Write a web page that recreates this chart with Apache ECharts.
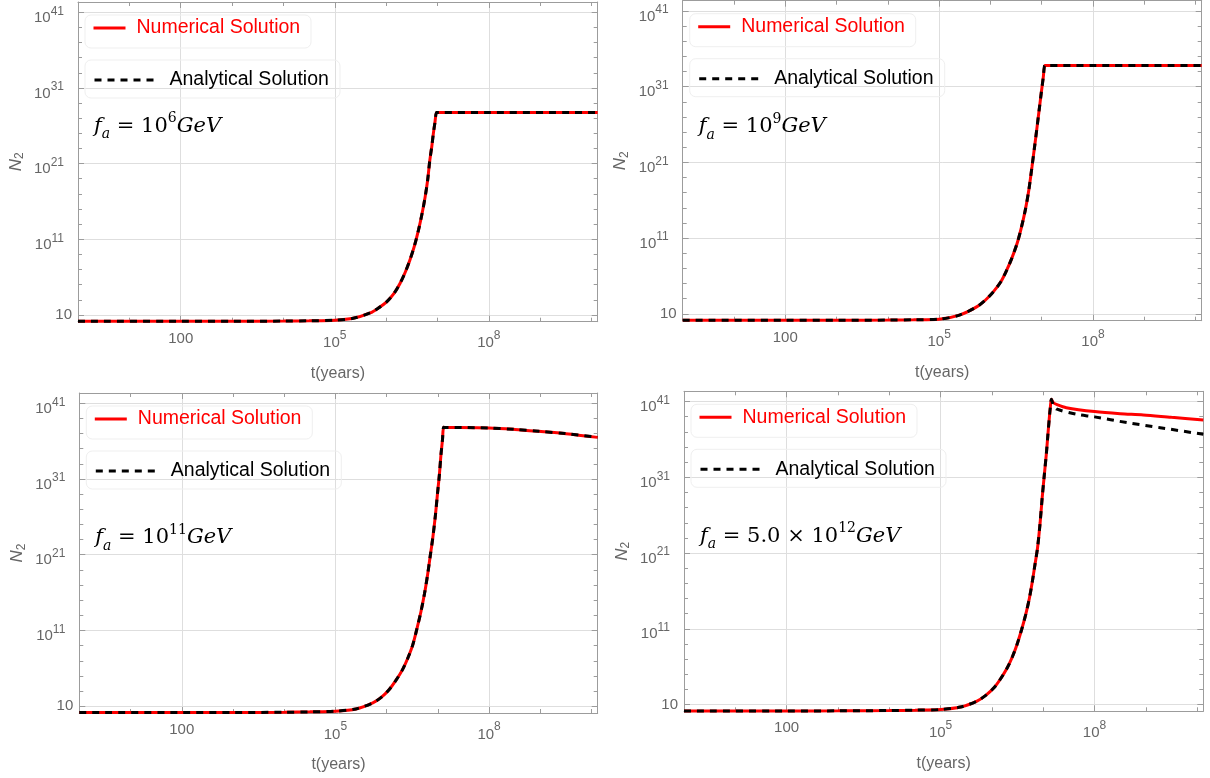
<!DOCTYPE html>
<html><head><meta charset="utf-8">
<script src="https://cdn.jsdelivr.net/npm/echarts@6/dist/echarts.min.js"></script>
<style>html,body{margin:0;padding:0;background:#fff}#c{width:1210px;height:778px}</style>
</head><body><div id="c"></div><script>
// ---- ticks (log10 exponents) ----
const xMajorTicks = [2, 5, 8];
const xMinorTicks = [0, 1, 3, 4, 6, 7, 9, 10];
const yMajorTicks = [1, 11, 21, 31, 41];
const yMinorTicks = [3, 5, 7, 9, 13, 15, 17, 19, 23, 25, 27, 29, 33, 35, 37, 39];
const xTickLabels = ['100', '10^5', '10^8'];
const yTickLabels = ['10', '10^11', '10^21', '10^31', '10^41'];
const panelLabels = ['10^6', '10^9', '10^11', '5.0 × 10^12'];

// ---- data: log10 t (years), log10 N2 ----
const p1LogT = [0, 2, 3, 4, 4.5, 5, 5.36, 5.69, 5.85, 6.01, 6.15, 6.27, 6.37, 6.46, 6.55, 6.63, 6.7, 6.76, 6.81, 6.85, 6.89, 6.92, 6.95, 6.98, 7.0, 8, 10.12];
const p1Num  = [0.15, 0.15, 0.16, 0.18, 0.22, 0.3, 0.55, 1.26, 1.9, 2.72, 3.8, 5.15, 6.6, 8.2, 10.1, 12.2, 14.4, 16.6, 18.9, 21.4, 23.3, 25.0, 26.4, 27.75, 27.75, 27.75, 27.75];
const p1Ana  = p1Num;

const p2LogT = [0, 2, 3, 4, 4.5, 5, 5.41, 5.74, 5.9, 6.06, 6.2, 6.32, 6.42, 6.52, 6.6, 6.68, 6.75, 6.81, 6.86, 6.91, 6.95, 6.99, 7.03, 7.06, 7.08, 8, 10.12];
const p2Num  = [0.15, 0.15, 0.16, 0.18, 0.22, 0.3, 0.87, 1.96, 2.8, 3.94, 5.2, 6.8, 8.4, 10.3, 12.3, 14.7, 17.4, 20.4, 23.0, 25.7, 27.9, 30.1, 32.2, 33.8, 33.8, 33.8, 33.8];
const p2Ana  = p2Num;

const p3LogT = [0, 2, 3, 4, 4.5, 5, 5.4, 5.73, 5.9, 6.05, 6.18, 6.31, 6.41, 6.51, 6.59, 6.67, 6.74, 6.8, 6.85, 6.9, 6.95, 6.99, 7.03, 7.06, 7.09, 7.11, 7.13, 8, 8.5, 8.97, 9.5, 10.12];
const p3Num  = [0.15, 0.15, 0.16, 0.2, 0.25, 0.34, 0.64, 1.44, 2.2, 3.2, 4.4, 5.83, 7.3, 9.1, 11.2, 13.5, 15.9, 18.4, 20.8, 23.2, 26.1, 28.9, 31.6, 34.2, 36.2, 37.83, 37.82, 37.74, 37.55, 37.3, 36.99, 36.5];
const p3Ana  = p3Num;

const p4RiseT = [0, 2, 3, 4, 4.5, 5, 5.39, 5.71, 5.88, 6.04, 6.17, 6.3, 6.4, 6.49, 6.58, 6.66, 6.73, 6.79, 6.84, 6.89, 6.94, 6.98, 7.02, 7.06, 7.09, 7.12, 7.14, 7.16];
const p4RiseN = [0.15, 0.15, 0.16, 0.2, 0.25, 0.34, 0.66, 1.45, 2.2, 3.2, 4.4, 5.85, 7.3, 8.93, 10.9, 12.9, 15.0, 17.3, 19.5, 21.7, 25.0, 28.3, 31.2, 34.0, 36.5, 38.9, 40.3, 41.3];
const p4NumTailT = [7.2, 7.27, 7.45, 8, 8.5, 8.95, 9.5, 10.12];
const p4NumTailN = [40.85, 40.6, 40.2, 39.68, 39.4, 39.24, 38.92, 38.58];
const p4AnaTailT = [7.2, 7.27, 7.65, 8, 8.63, 9.28, 10.12];
const p4AnaTailN = [40.5, 40.0, 39.32, 38.98, 38.23, 37.56, 36.68];

// ---- layout / style ----
const FONT = '"Liberation Sans", Arial, sans-serif';
const SERIF = '"DejaVu Serif", serif';
const GRAY = '#666';
const FRAME = '#9c9c9c';
const GRIDC = '#dedede';
const DASH = [7, 6];
const X_MIN = 0, X_MAX = 10.12, Y_MIN = 0.1, Y_MAX = 42.36;
const grids = [
  {left: 78, top: 2, width: 519.7, height: 319.7},
  {left: 682.7, top: 0.7, width: 519, height: 320},
  {left: 79.3, top: 393, width: 518.4, height: 320},
  {left: 684, top: 391.3, width: 519.3, height: 320}
];
const panelData = [
  {numT: p1LogT, numN: p1Num, anaT: p1LogT, anaN: p1Ana},
  {numT: p2LogT, numN: p2Num, anaT: p2LogT, anaN: p2Ana},
  {numT: p3LogT, numN: p3Num, anaT: p3LogT, anaN: p3Ana},
  {numT: p4RiseT.concat(p4NumTailT), numN: p4RiseN.concat(p4NumTailN),
   anaT: p4RiseT.concat(p4AnaTailT), anaN: p4RiseN.concat(p4AnaTailN)}
];

function pairs(t, n) { return t.map((v, i) => [v, n[i]]); }
function supText(s) {
  const k = s.indexOf('^');
  return k < 0 ? '{p|' + s + '}' : '{b|' + s.slice(0, k) + '}{s|' + s.slice(k + 1) + '}';
}
function tickFmt(ticks, labels) {
  return v => { const i = ticks.findIndex(t => Math.abs(t - v) < 1e-6); return i < 0 ? '' : supText(labels[i]); };
}
const xRich = {
  p: {fontSize: 15, lineHeight: 24, color: GRAY, fontFamily: FONT},
  b: {fontSize: 15, lineHeight: 16, padding: [9, 0, 0, 0], verticalAlign: 'top', color: GRAY, fontFamily: FONT},
  s: {fontSize: 12, lineHeight: 16, padding: [3, 0, 0, 0], verticalAlign: 'top', color: GRAY, fontFamily: FONT}
};
const yRich = {
  p: {fontSize: 15, lineHeight: 24, color: GRAY, fontFamily: FONT},
  b: {fontSize: 15, lineHeight: 16, padding: [6, 0, 4, 0], verticalAlign: 'top', color: GRAY, fontFamily: FONT},
  s: {fontSize: 12, lineHeight: 16, padding: [1, 8, 0, 0], verticalAlign: 'top', color: GRAY, fontFamily: FONT}
};

const xAxes = [], yAxes = [], series = [], legends = [], graphics = [];
const lineOn = {show: true, onZero: false, lineStyle: {color: FRAME, width: 1}};

function tickAxis(base, pos, ticks, len, showLine) {
  return Object.assign({}, base, {
    position: pos,
    axisLine: showLine ? lineOn : {show: false, onZero: false},
    axisTick: {show: true, inside: true, length: len, customValues: ticks, lineStyle: {color: FRAME, width: 1}},
    axisLabel: {show: false},
    splitLine: {show: false}
  });
}

grids.forEach((g, gi) => {
  const xb = {type: 'value', gridIndex: gi, min: X_MIN, max: X_MAX};
  const yb = {type: 'value', gridIndex: gi, min: Y_MIN, max: Y_MAX};
  xAxes.push(Object.assign({}, xb, {
    position: 'bottom',
    axisLine: lineOn,
    axisTick: {show: true, inside: true, length: 6, customValues: xMajorTicks, lineStyle: {color: FRAME, width: 1}},
    axisLabel: {show: true, customValues: xMajorTicks, margin: 5, formatter: tickFmt(xMajorTicks, xTickLabels), rich: xRich, color: GRAY, fontSize: 15, fontFamily: FONT},
    splitLine: {show: true, lineStyle: {color: GRIDC, width: 1}},
    name: 't(years)', nameLocation: 'middle', nameGap: 44,
    nameTextStyle: {color: GRAY, fontSize: 16, fontFamily: FONT}
  }));
  xAxes.push(tickAxis(xb, 'bottom', xMinorTicks, 4, false));
  xAxes.push(tickAxis(xb, 'top', xMajorTicks, 6, true));
  xAxes.push(tickAxis(xb, 'top', xMinorTicks, 4, false));
  yAxes.push(Object.assign({}, yb, {
    position: 'left',
    axisLine: lineOn,
    axisTick: {show: true, inside: true, length: 6, customValues: yMajorTicks, lineStyle: {color: FRAME, width: 1}},
    axisLabel: {show: true, customValues: yMajorTicks, margin: 6, formatter: tickFmt(yMajorTicks, yTickLabels), rich: yRich, color: GRAY, fontSize: 15, fontFamily: FONT},
    splitLine: {show: true, lineStyle: {color: GRIDC, width: 1}},
    name: '{n|N}{s|2}', nameLocation: 'middle', nameGap: 52, nameRotate: 90,
    nameTextStyle: {color: GRAY, fontSize: 17, fontFamily: FONT, rich: {
      n: {fontSize: 17, fontStyle: 'italic', color: GRAY, fontFamily: FONT, lineHeight: 20},
      s: {fontSize: 12, color: GRAY, fontFamily: FONT, lineHeight: 12, verticalAlign: 'bottom'}
    }}
  }));
  yAxes.push(tickAxis(yb, 'left', yMinorTicks, 4, false));
  yAxes.push(tickAxis(yb, 'right', yMajorTicks, 6, true));
  yAxes.push(tickAxis(yb, 'right', yMinorTicks, 4, false));

  const d = panelData[gi];
  series.push({
    type: 'line', name: 'Numerical Solution', xAxisIndex: 4 * gi, yAxisIndex: 4 * gi,
    data: pairs(d.numT, d.numN), symbol: 'none', clip: false, silent: true, z: 3, smooth: 0.3,
    lineStyle: {color: '#ff0000', width: 3}, itemStyle: {color: '#ff0000'}
  });
  series.push({
    type: 'line', name: 'Analytical Solution', xAxisIndex: 4 * gi, yAxisIndex: 4 * gi,
    data: pairs(d.anaT, d.anaN), symbol: 'none', clip: false, silent: true, z: 4, smooth: 0.3,
    lineStyle: {color: '#000000', width: 3, type: DASH}, itemStyle: {color: '#000000'}
  });

  legends.push({
    left: g.left + 14, top: g.top + 26 - 10, padding: 0, itemWidth: 32, itemHeight: 20,
    selectedMode: false, itemStyle: {opacity: 0, borderWidth: 0},
    lineStyle: {width: 3, color: '#ff0000', type: 'solid'},
    data: [{name: 'Numerical Solution', textStyle: {color: '#ff0000'}}],
    textStyle: {fontSize: 19.5, fontFamily: FONT, padding: [0, 0, 0, 6]}
  });
  legends.push({
    left: g.left + 15, top: g.top + 78 - 10, padding: 0, itemWidth: 60, itemHeight: 20,
    selectedMode: false, itemStyle: {opacity: 0, borderWidth: 0},
    lineStyle: {width: 3, color: '#000000', type: DASH},
    data: [{name: 'Analytical Solution', textStyle: {color: '#000000'}}],
    textStyle: {fontSize: 19.5, fontFamily: FONT, padding: [0, 0, 0, 10]}
  });

  graphics.push({type: 'rect', silent: true, z: 1,
    shape: {x: g.left + 7, y: g.top + 13, width: 226, height: 33, r: 6},
    style: {fill: 'rgba(0,0,0,0)', stroke: '#efefef', lineWidth: 1}});
  graphics.push({type: 'rect', silent: true, z: 1,
    shape: {x: g.left + 7, y: g.top + 58, width: 255, height: 38, r: 6},
    style: {fill: 'rgba(0,0,0,0)', stroke: '#efefef', lineWidth: 1}});

  const lab = panelLabels[gi];
  const k = lab.lastIndexOf('^');
  const txt = '{i|f}{sub|a}{r| = ' + lab.slice(0, k) + '}{sup|' + lab.slice(k + 1) + '}{i|GeV}';
  const annTop = [111.7, 112, 523, 521.3][gi];
  graphics.push({type: 'text', silent: true, z: 10,
    left: g.left + 16, top: annTop,
    style: {text: txt, fill: '#000', font: '21px ' + SERIF, rich: {
      i: {fontFamily: SERIF, fontStyle: 'italic', fontSize: 21, lineHeight: 30, fill: '#000'},
      r: {fontFamily: SERIF, fontSize: 21, lineHeight: 30, fill: '#000'},
      sub: {fontFamily: SERIF, fontStyle: 'italic', fontSize: 14, lineHeight: 16, verticalAlign: 'bottom', fill: '#000'},
      sup: {fontFamily: SERIF, fontSize: 14, lineHeight: 18, verticalAlign: 'top', fill: '#000'}
    }}});
});

const chart = echarts.init(document.getElementById('c'), null, {renderer: 'canvas'});
chart.setOption({
  animation: false,
  backgroundColor: '#ffffff',
  grid: grids.map(g => Object.assign({show: false, containLabel: false, outerBoundsMode: 'none'}, g)),
  xAxis: xAxes,
  yAxis: yAxes,
  legend: legends,
  series: series,
  graphic: graphics
});
</script></body></html>
